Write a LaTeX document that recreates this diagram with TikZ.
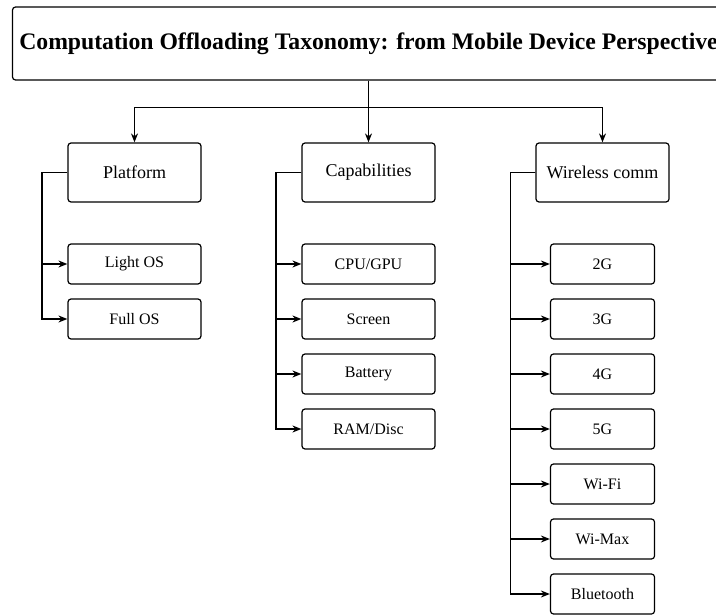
\documentclass[tikz,border=0pt]{standalone}
\usepackage{fontspec}
\setmainfont{Liberation Serif}
\usetikzlibrary{arrows.meta}
\tikzset{
  box/.style={draw, line width=1.2pt, rounded corners=3pt, inner sep=0pt, align=center},
  lvl/.style={box, minimum width=133pt, minimum height=59pt, font=\fontsize{18}{21}\selectfont},
  leaf/.style={box, minimum width=133pt, minimum height=40pt, font=\fontsize{16}{19}\selectfont},
  wleaf/.style={box, minimum width=104pt, minimum height=40pt, font=\fontsize{16}{19}\selectfont},
  arr/.style={line width=1.3pt, -{Stealth[length=9pt,width=7pt]}},
}
\begin{document}
\begin{tikzpicture}[x=1pt,y=-1pt]
\useasboundingbox (0,0) rectangle (716,615);
\clip (0,0) rectangle (716,615);
\node[box, minimum width=712pt, minimum height=73pt, font=\bfseries\fontsize{23.7}{26}\selectfont] (title) at (368.5,43.5) {Computation Offloading Taxonomy: from Mobile Device Perspective};
\node[lvl] (plat) at (134.5,172.5) {Platform};
\node[lvl] (cap) at (368.5,172.5) {Capabilities};
\node[lvl] (wire) at (602.5,172.5) {Wireless comm};
\node[leaf] (l1) at (134.5,264) {Light OS};
\node[leaf] (l2) at (134.5,319) {Full OS};
\node[leaf] (c1) at (368.5,264) {CPU/GPU};
\node[leaf] (c2) at (368.5,319) {Screen};
\node[leaf] (c3) at (368.5,374) {Battery};
\node[leaf] (c4) at (368.5,429) {RAM/Disc};
\node[wleaf] (w1) at (602.5,264) {2G};
\node[wleaf] (w2) at (602.5,319) {3G};
\node[wleaf] (w3) at (602.5,374) {4G};
\node[wleaf] (w4) at (602.5,429) {5G};
\node[wleaf] (w5) at (602.5,484) {Wi-Fi};
\node[wleaf] (w6) at (602.5,539) {Wi-Max};
\node[wleaf] (w7) at (602.5,594) {Bluetooth};
\draw[arr] (title.south) -- ++(0,27) -| (plat.north);
\draw[arr] (title.south) -- (cap.north);
\draw[arr] (title.south) -- ++(0,27) -| (wire.north);
\foreach \c in {l1,l2}{\draw[arr] (plat.west) -- ++(-25.5,0) |- (\c.west);}
\foreach \c in {c1,c2,c3,c4}{\draw[arr] (cap.west) -- ++(-25.5,0) |- (\c.west);}
\foreach \c in {w1,w2,w3,w4,w5,w6,w7}{\draw[arr] (wire.west) -- ++(-25,0) |- (\c.west);}
\end{tikzpicture}
\end{document}
